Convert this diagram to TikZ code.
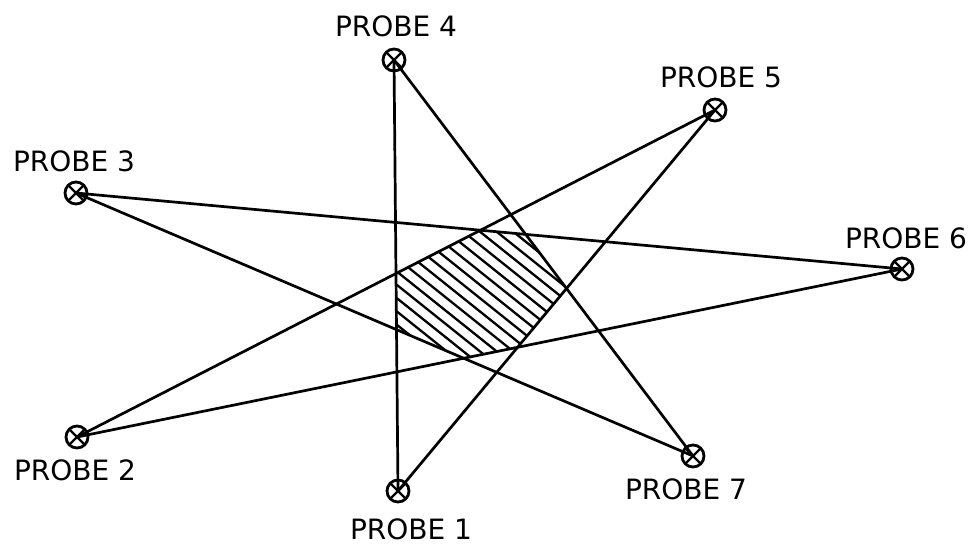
\documentclass[tikz,border=0pt]{standalone}
\usepackage{fontspec}
\setmainfont{DejaVu Sans}
\usetikzlibrary{positioning,intersections}

\begin{document}
\begin{tikzpicture}[x=1pt,y=-1pt,
            probe/.style={circle, draw, line width=2.8pt, minimum size=22pt, inner sep=0pt, outer sep=0pt,
                path picture={\draw[line width=2.4pt] (path picture bounding box.south west) -- (path picture bounding box.north east)
                    (path picture bounding box.north west) -- (path picture bounding box.south east);}},
            tag/.style={inner sep=0pt, font=\fontsize{28}{30}\selectfont},
            ray/.style={line width=2.7pt},
            hatch/.style={line width=2.3pt}]
            \useasboundingbox (0,0) rectangle (976,547);

            % Probes
            \node[probe] (p1) at (398,491) {};
            \node[probe] (p2) at (77,437) {};
            \node[probe] (p3) at (76,193) {};
            \node[probe] (p4) at (394,60) {};
            \node[probe] (p5) at (715,110) {};
            \node[probe] (p6) at (902,269) {};
            \node[probe] (p7) at (693,456) {};

            % Labels
            \node[tag, below=17pt of p1, xshift=13pt] (t1) {PROBE 1};
            \node[tag, below=12pt of p2, xshift=-2pt] (t2) {PROBE 2};
            \node[tag, above=10pt of p3, xshift=-2pt] (t3) {PROBE 3};
            \node[tag, above=12pt of p4, xshift=2pt] (t4) {PROBE 4};
            \node[tag, above=11pt of p5, xshift=6pt] (t5) {PROBE 5};
            \node[tag, above=9pt of p6, xshift=4pt] (t6) {PROBE 6};
            \node[tag, below=12pt of p7, xshift=-7pt] (t7) {PROBE 7};

            % Paths between probes
            \draw[ray, name path=l41] (p4.center) -- (p1.center);
            \draw[ray, name path=l47] (p4.center) -- (p7.center);
            \draw[ray, name path=l52] (p5.center) -- (p2.center);
            \draw[ray, name path=l51] (p5.center) -- (p1.center);
            \draw[ray, name path=l36] (p3.center) -- (p6.center);
            \draw[ray, name path=l37] (p3.center) -- (p7.center);
            \draw[ray, name path=l26] (p2.center) -- (p6.center);

            % Common region
            \path[name intersections={of=l41 and l52, by=v1}];
            \path[name intersections={of=l52 and l36, by=v2}];
            \path[name intersections={of=l36 and l47, by=v3}];
            \path[name intersections={of=l47 and l51, by=v4}];
            \path[name intersections={of=l51 and l26, by=v5}];
            \path[name intersections={of=l26 and l37, by=v6}];
            \path[name intersections={of=l37 and l41, by=v7}];
            \begin{scope}
                \clip (v1) -- (v2) -- (v3) -- (v4) -- (v5) -- (v6) -- (v7) -- cycle;
                \foreach \k [evaluate=\k as \d using 207.4+13.3*\k] in {-13,...,4}
                    \draw[hatch] (300,\d) -- (700,\d+320);
            \end{scope}
        \end{tikzpicture}
\end{document}
